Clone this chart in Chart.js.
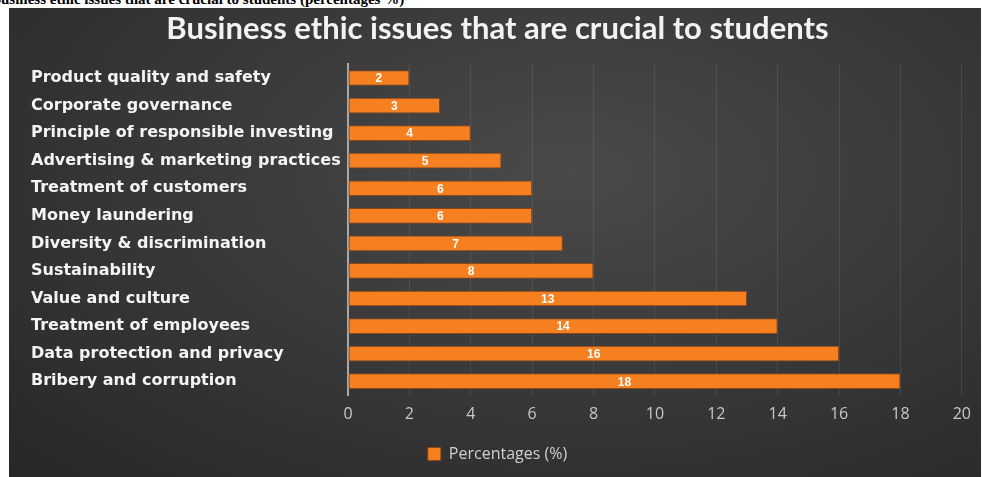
<!DOCTYPE html>
<html>
<head>
<meta charset="utf-8">
<script src="https://cdn.jsdelivr.net/npm/chart.js@4.4.1/dist/chart.umd.min.js"></script>
<style>
  html, body { margin: 0; padding: 0; background: #fff; overflow: hidden; }
  body { width: 982px; height: 477px; position: relative; }
  #caption {
    position: absolute; left: -9px; top: -8px; white-space: nowrap;
    font: bold 15px "Liberation Serif", serif; line-height: 1; color: #000; z-index: 2;
  }
  #box {
    position: absolute; left: 9px; top: 8px; width: 972px; height: 469px;
    background: radial-gradient(ellipse at 58% 35%, #4a4a4a 0%, #3a3a3a 45%, #272727 100%);
  }
</style>
</head>
<body>
<div id="caption">Business ethic issues that are crucial to students (percentages %)</div>
<div id="box"><canvas id="myChart"></canvas></div>
<script>
// chart data
const issues = [
  'Product quality and safety',
  'Corporate governance',
  'Principle of responsible investing',
  'Advertising & marketing practices',
  'Treatment of customers',
  'Money laundering',
  'Diversity & discrimination',
  'Sustainability',
  'Value and culture',
  'Treatment of employees',
  'Data protection and privacy',
  'Bribery and corruption'
];
const percentages = [2, 3, 4, 5, 6, 6, 7, 8, 13, 14, 16, 18];
const xTicks = [0, 2, 4, 6, 8, 10, 12, 14, 16, 18, 20];

const sans = '"Open Sans", sans-serif';

// white value in the middle of each bar
const barValues = {
  id: 'barValues',
  afterDatasetsDraw(chart) {
    const ctx = chart.ctx;
    const meta = chart.getDatasetMeta(0);
    ctx.save();
    ctx.fillStyle = '#ffffff';
    ctx.font = 'bold 12px "Liberation Sans", Arial, sans-serif';
    ctx.textAlign = 'center';
    ctx.textBaseline = 'middle';
    meta.data.forEach((bar, i) => {
      const x = (bar.base + bar.x) / 2;
      ctx.fillText(chart.data.datasets[0].data[i], x, bar.y + 1);
    });
    ctx.restore();
  }
};

new Chart(document.getElementById('myChart'), {
  type: 'bar',
  data: {
    labels: issues,
    datasets: [{
      label: 'Percentages (%)',
      data: percentages,
      backgroundColor: '#f67f1f',
      borderColor: '#8f4616',
      borderWidth: 1,
      borderSkipped: false,
      categoryPercentage: 1,
      barPercentage: 0.57
    }]
  },
  options: {
    indexAxis: 'y',
    responsive: true,
    maintainAspectRatio: false,
    animation: false,
    layout: { padding: { left: 22, right: 17, top: 0, bottom: 5 } },
    plugins: {
      title: {
        display: true,
        text: 'Business ethic issues that are crucial to students',
        color: '#f2f2f2',
        font: { family: 'Lato, sans-serif', size: 31, weight: 'bold' },
        padding: { top: 2, bottom: 17 }
      },
      legend: {
        position: 'bottom',
        labels: {
          color: '#d0d0d0',
          font: { family: sans, size: 16 },
          boxWidth: 13,
          boxHeight: 13,
          padding: 10
        }
      },
      tooltip: { enabled: false }
    },
    scales: {
      x: {
        min: 0,
        max: 20,
        afterBuildTicks(axis) { axis.ticks = xTicks.map(v => ({ value: v })); },
        afterFit(axis) { axis.height = 41; },
        grid: { color: 'rgba(255,255,255,0.09)', drawTicks: false },
        border: { display: false },
        ticks: {
          color: '#c8c8c8',
          padding: 10,
          font: { family: sans, size: 16 }
        }
      },
      y: {
        afterFit(axis) { axis.width = 317; },
        grid: { display: false },
        border: { display: true, color: '#a8a8a8', width: 2 },
        ticks: {
          crossAlign: 'far',
          color: '#f4f4f4',
          font: { family: '"DejaVu Sans", sans-serif', size: 16, weight: 'bold' }
        }
      }
    }
  },
  plugins: [barValues]
});
</script>
</body>
</html>
